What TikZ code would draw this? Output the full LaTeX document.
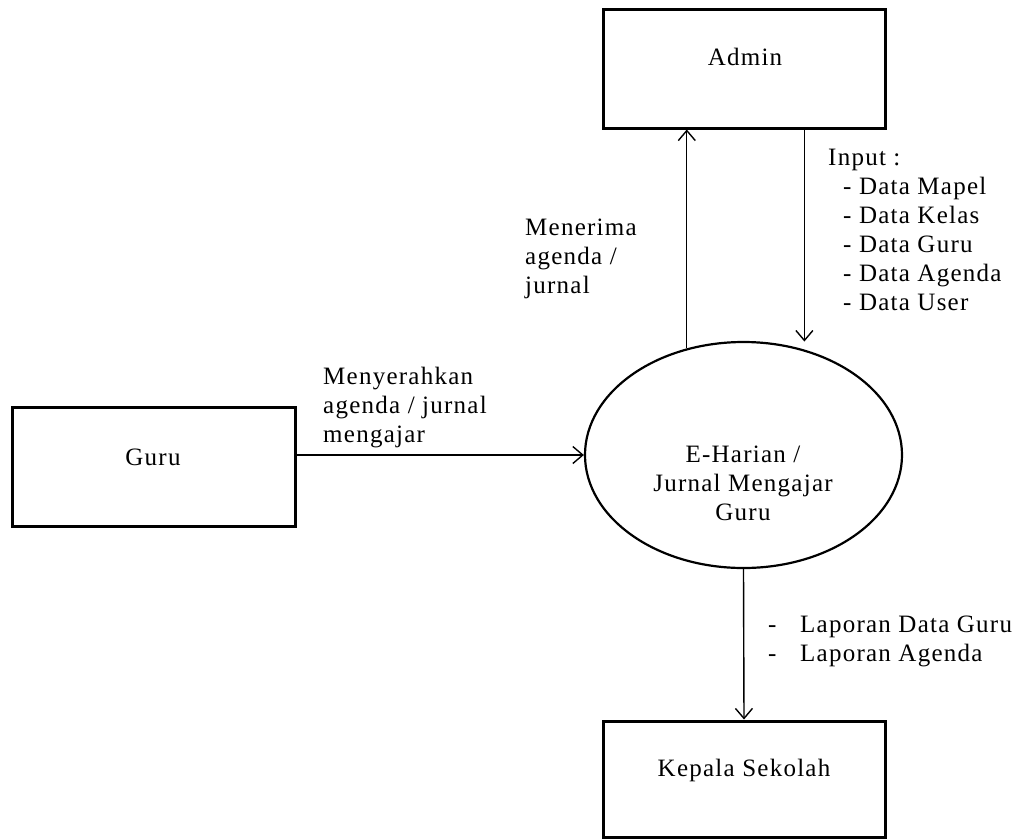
\documentclass[tikz,border=0pt]{standalone}
\usepackage{fontspec}
\setmainfont{Liberation Serif}[LetterSpace=5]
\usetikzlibrary{arrows.meta,shapes.geometric}
\tikzset{
  box/.style={draw, line width=3pt, rectangle, inner sep=0pt},
  proc/.style={draw, line width=2.2pt, ellipse, inner sep=0pt, minimum width=317pt, minimum height=226pt},
  arr/.style={line width=1.4pt, -{Straight Barb[length=10pt,width=17pt,line width=1.4pt]}},
  lbl/.style={inner sep=0pt, align=left, font=\fontsize{25}{29}\selectfont},
  ctr/.style={inner sep=0pt, align=center, font=\fontsize{25}{29}\selectfont}
}
\begin{document}
\begin{tikzpicture}[x=1pt,y=-1pt]
\useasboundingbox (0,0) rectangle (1021,839);
% boxes
\node[box, minimum width=282pt, minimum height=119pt] (admin) at (744,68.5) {};
\node[box, minimum width=283pt, minimum height=119pt] (guru) at (153.5,466.5) {};
\node[box, minimum width=282pt, minimum height=116pt] (kepala) at (744,779) {};
\node[proc] (ell) at (743.5,455) {};
% box texts
\node[ctr] (admint) at (745,57) {Admin};
\node[ctr] (gurut) at (153,457) {Guru};
\node[ctr] (kepalat) at (744,770) {Kepala Sekolah};
\node[ctr, anchor=north] (ellt) at (743,446) {E-Harian /\\Jurnal Mengajar\\Guru};
% connectors
\draw[arr] (ell.118.15) -- (ell.118.15 |- admin.south);
\draw[arr] (admin.south -| ell.60.9) -- ([yshift=8pt]ell.60.9);
\draw[arr] (guru.east |- ell.west) -- (ell.west);
\draw[arr] (ell.south) -- (kepala.north);
% labels
\node[lbl, anchor=north west] (menerima) at (525,219) {Menerima\\agenda /\\jurnal};
\node[lbl, anchor=north west] (input) at (828,149) {Input :\\\hspace*{15pt}- Data Mapel\\\hspace*{15pt}- Data Kelas\\\hspace*{15pt}- Data Guru\\\hspace*{15pt}- Data Agenda\\\hspace*{15pt}- Data User};
\node[lbl, anchor=north west] (menyerahkan) at (323,367) {Menyerahkan\\agenda / jurnal\\mengajar};
\node[lbl, anchor=north west] (laporan) at (768,616) {\makebox[32pt][l]{-}Laporan Data Guru\\\makebox[32pt][l]{-}Laporan Agenda};
\end{tikzpicture}
\end{document}
